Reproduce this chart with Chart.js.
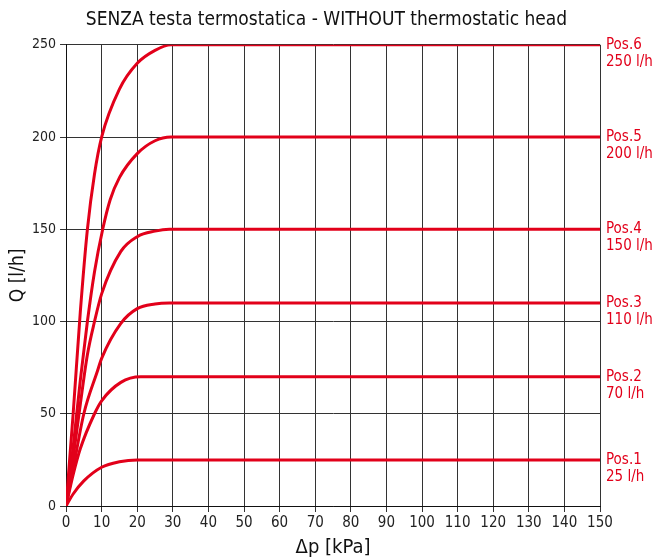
<!DOCTYPE html>
<html>
<head>
<meta charset="utf-8">
<script src="https://cdn.jsdelivr.net/npm/chart.js@4"></script>
<style>
  html, body { margin: 0; padding: 0; background: #fff; }
  #wrap { width: 653px; height: 560px; }
</style>
</head>
<body>
<div id="wrap"><canvas id="chart"></canvas></div>
<script>
// Values
const TITLE = 'SENZA testa termostatica - WITHOUT thermostatic head';
const positions = ['Pos.1', 'Pos.2', 'Pos.3', 'Pos.4', 'Pos.5', 'Pos.6'];
const flowLabels = ['25 l/h', '70 l/h', '110 l/h', '150 l/h', '200 l/h', '250 l/h'];

const pos1 = [[0,0],[2,6.5],[5,13.6],[10,21],[15,24],[20,25],[150,25]];
const pos2 = [[0,0],[2,17],[4,31],[8,50],[10,57],[15.4,67],[21,70],[150,70]];
const pos3 = [[0,0],[2,20],[5,50],[8.8,73],[10,80],[15.4,99],[20,107],[25,109.5],[29,110],[150,110]];
const pos4 = [[0,0],[2,26],[4,55],[6,82],[8,100],[10,115],[15.4,138],[20,146],[25,149],[29,150],[150,150]];
const pos5 = [[0,0],[2,32],[4,68],[6,100],[8,127],[10.3,150],[12.4,166],[15,178],[20,191],[25,198],[29.5,200],[150,200]];
const pos6 = [[0,0],[2,50],[4,105],[6,150],[8,180],[10,200],[15,226],[20,240],[25,247],[29.5,250],[150,250]];
const series = [pos1, pos2, pos3, pos4, pos5, pos6];

const RED = '#e2001a';
const FONT = "'Liberation Sans Narrow', 'DejaVu Sans Condensed', 'Roboto', sans-serif";

// Pos.N / flow labels to the right of the plot, at the end of each line
const endLabels = {
  id: 'endLabels',
  afterDraw(chart) {
    const ctx = chart.ctx;
    const xs = chart.scales.x, ys = chart.scales.y;
    ctx.save();
    ctx.fillStyle = RED;
    ctx.font = '15px ' + FONT;
    ctx.textAlign = 'left';
    ctx.textBaseline = 'middle';
    series.forEach((s, i) => {
      const last = s[s.length - 1];
      const px = xs.getPixelForValue(last[0]) + 6;
      const py = ys.getPixelForValue(last[1]);
      ctx.fillText(positions[i], px, py);
      ctx.fillText(flowLabels[i], px, py + 17);
    });
    ctx.restore();
  }
};

new Chart(document.getElementById('chart'), {
  type: 'line',
  data: {
    datasets: series.map((s, i) => ({
      label: positions[i],
      data: s.map(p => ({ x: p[0], y: p[1] })),
      borderColor: RED,
      borderWidth: 3,
      pointRadius: 0,
      fill: false,
      cubicInterpolationMode: 'monotone'
    }))
  },
  options: {
    responsive: true,
    maintainAspectRatio: false,
    animation: false,
    plugins: {
      legend: { display: false },
      tooltip: { enabled: false },
      title: {
        display: true, text: TITLE, color: '#111',
        font: { family: FONT, size: 19, weight: 'normal' },
        padding: { top: 9, bottom: 13 }
      }
    },
    scales: {
      x: {
        type: 'linear', min: 0, max: 150,
        ticks: { stepSize: 10, color: '#222', font: { family: FONT, size: 15 }, padding: 2, maxRotation: 0 },
        grid: { color: '#333', lineWidth: 1, tickLength: 6 },
        border: { color: '#111', width: 1 },
        title: { display: true, text: 'Δp [kPa]', color: '#111', font: { family: FONT, size: 20 }, padding: { top: 2, bottom: 0 } }
      },
      y: {
        min: 0, max: 250,
        ticks: { stepSize: 50, color: '#222', font: { family: FONT, size: 14 }, padding: 4 },
        grid: { color: '#333', lineWidth: 1, tickLength: 6 },
        border: { color: '#111', width: 1 },
        title: { display: true, text: 'Q [l/h]', color: '#111', font: { family: FONT, size: 19, lineHeight: 1 }, padding: { top: 9, bottom: 0 } }
      },
      // empty right-hand axis, only reserves room for the Pos. labels
      yRight: {
        position: 'right', min: 0, max: 250,
        grid: { display: false }, border: { display: false },
        ticks: { display: false },
        afterFit(scale) { scale.width = 53; }
      }
    }
  },
  plugins: [endLabels]
});
</script>
</body>
</html>
